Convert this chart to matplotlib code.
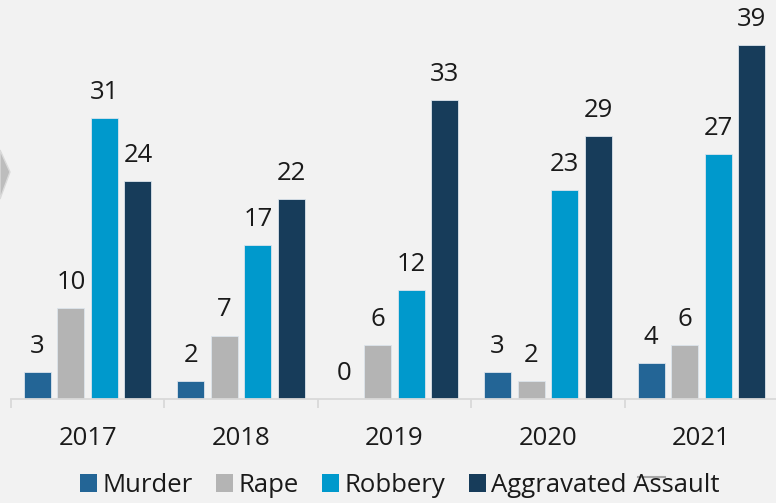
import numpy as np
import matplotlib
matplotlib.use('Agg')
import matplotlib.pyplot as plt
from matplotlib.patches import Polygon
from matplotlib.lines import Line2D

plt.rcParams['font.family'] = ['Open Sans', 'DejaVu Sans']

years = ['2017', '2018', '2019', '2020', '2021']
murder = [3, 2, 0, 3, 4]
rape = [10, 7, 6, 2, 6]
robbery = [31, 17, 12, 23, 27]
aggravated = [24, 22, 33, 29, 39]

series = [('Murder', murder, '#236596'),
          ('Rape', rape, '#B4B4B4'),
          ('Robbery', robbery, '#0099CC'),
          ('Aggravated Assault', aggravated, '#173C5A')]

bg = '#F2F2F2'
W, H = 776, 503
fig = plt.figure(figsize=(W / 100, H / 100), dpi=100, facecolor=bg)

# axes: baseline at y=399px, left boundary at x=11px, runs off the right edge
ax = fig.add_axes([11 / W, (H - 399) / H, 767 / W, 399 / H])
ax.set_facecolor(bg)

x = np.arange(len(years))
width = 0.176
step = 0.2185
offsets = (np.arange(4) - 1.5) * step

for (name, vals, color), off in zip(series, offsets):
    bars = ax.bar(x + off, vals, width, color=color, label=name,
                  edgecolor='#DCE4EC', linewidth=0.6)
    for xi, v in zip(x + off, vals):
        ax.annotate(str(v), (xi, v), xytext=(0, 13.7), textcoords='offset points',
                    ha='center', va='baseline', fontsize=18.5, color='#1A1A1A')

ax.set_xlim(-0.5, 4.5)
ax.set_ylim(0, 399 / 9.07)

for s in ['top', 'right', 'left']:
    ax.spines[s].set_visible(False)
ax.spines['bottom'].set_color('#D9D9D9')
ax.spines['bottom'].set_linewidth(1.3)
ax.set_yticks([])

ax.set_xticks(x)
ax.set_xticklabels(years, fontsize=18.5, color='#1A1A1A')
ax.tick_params(axis='x', which='major', length=0, pad=19.5)
ax.set_xticks(np.arange(-0.5, 5.0, 1.0), minor=True)
ax.tick_params(axis='x', which='minor', length=6.5, width=1.3, color='#D9D9D9')

leg = fig.legend(loc='center', bbox_to_anchor=(400 / W, 1 - 485.5 / H), ncol=4,
                 frameon=False, fontsize=18.5, handlelength=0.66, handleheight=0.66,
                 handletextpad=0.22, columnspacing=0.9, borderaxespad=0, borderpad=0)
for t in leg.get_texts():
    t.set_color('#1A1A1A')
for h in leg.legend_handles:
    h.set_edgecolor('none')

# cropped grey shape at the left edge
shape = Polygon([(0, 1 - 150 / H), (10 / W, 1 - 172 / H), (0, 1 - 199 / H)],
                closed=True, transform=fig.transFigure, facecolor='#BDBDBD',
                edgecolor='#DADADA', linewidth=1)
fig.patches.append(shape)

# small stray dash above "Assault"
fig.lines.append(Line2D([638 / W, 665 / W], [1 - 477 / H, 1 - 477 / H],
                        transform=fig.transFigure, color='#A6A6A6', linewidth=1.5))

plt.savefig('out.png', dpi=100, facecolor=bg)
